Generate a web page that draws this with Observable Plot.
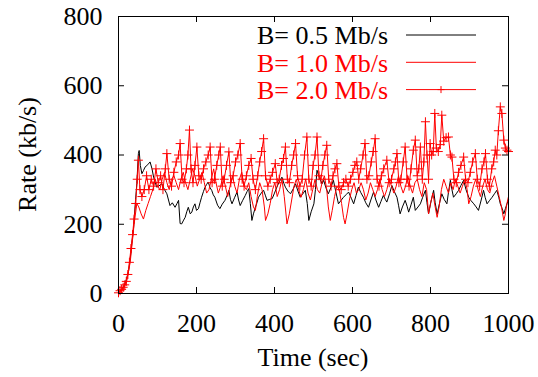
<!DOCTYPE html>
<html>
<head>
<meta charset="utf-8">
<script src="https://cdn.jsdelivr.net/npm/d3@7"></script>
<script src="https://cdn.jsdelivr.net/npm/@observablehq/plot@0.6"></script>
<style>
  html, body { margin: 0; padding: 0; background: white; }
  #chart svg text { font-family: "Liberation Serif", "Times New Roman", serif !important; }
</style>
</head>
<body>
<div id="chart"></div>
<script>
// Tick values
const xTicks = [0, 200, 400, 600, 800, 1000];
const yTicks = [0, 200, 400, 600, 800];
const xLabel = "Time (sec)";
const yLabel = "Rate (kb/s)";
const seriesLabels = ["B= 0.5 Mb/s", "B= 1.0 Mb/s", "B= 2.0 Mb/s"];
const seriesColors = ["black", "red", "red"];

// B = 0.5 Mb/s  [time (sec), rate (kb/s)]
const b05 = [[0,5],[5,8],[10,15],[15,25],[20,40],[26,66],[30,100],[34,143],[38,180],[43,259],[47,318],[51,404],[53,413],[56,370],[60,346],[64,355],[68,365],[75,372],[81,380],[86,360],[90,336],[98,307],[103,310],[111,317],[118,300],[124,288],[132,254],[138,262],[145,249],[150,260],[154,269],[158,202],[162,201],[167,212],[171,220],[175,236],[179,249],[184,230],[188,235],[192,250],[196,259],[200,240],[205,245],[209,262],[213,278],[218,295],[222,307],[226,315],[230,322],[235,305],[239,298],[243,285],[247,278],[254,255],[260,245],[266,258],[273,269],[278,282],[283,298],[287,272],[291,259],[298,278],[304,293],[308,270],[312,254],[318,268],[325,283],[330,295],[334,303],[338,260],[342,211],[346,230],[351,249],[355,262],[359,278],[366,290],[372,298],[377,282],[381,269],[388,272],[394,274],[400,290],[406,307],[412,322],[419,336],[424,318],[428,307],[434,296],[441,288],[448,302],[454,317],[460,296],[466,278],[472,287],[479,298],[484,260],[488,211],[494,236],[501,259],[505,300],[509,356],[515,335],[522,317],[526,327],[532,305],[538,288],[545,307],[551,327],[557,295],[564,259],[570,268],[577,278],[584,286],[590,293],[597,275],[603,259],[609,283],[615,307],[621,292],[628,278],[634,262],[641,249],[647,270],[654,293],[660,270],[667,249],[673,266],[679,283],[684,272],[688,264],[695,288],[701,312],[707,295],[714,278],[718,255],[722,230],[728,250],[735,269],[740,252],[744,235],[750,256],[756,278],[761,240],[768,250],[774,259],[780,278],[787,298],[791,262],[795,230],[801,264],[808,298],[812,262],[817,230],[823,260],[829,288],[835,272],[842,259],[846,292],[851,327],[855,300],[859,278],[866,288],[872,298],[878,312],[885,327],[891,300],[898,278],[904,268],[911,259],[917,250],[923,240],[930,270],[936,298],[940,278],[945,259],[951,268],[958,278],[964,288],[970,298],[975,278],[979,259],[984,245],[988,230],[992,245],[996,259],[1000,270]];

// B = 1.0 Mb/s
const b10 = [[0,0],[10,10],[20,30],[30,90],[40,200],[47,260],[52,250],[58,230],[64,215],[70,240],[76,260],[82,280],[88,300],[94,330],[100,310],[106,300],[112,330],[118,350],[124,320],[130,300],[136,330],[142,340],[148,320],[154,300],[160,330],[166,350],[172,320],[178,300],[184,330],[190,360],[196,340],[202,310],[208,330],[214,350],[220,320],[226,290],[232,300],[238,330],[244,360],[250,320],[256,290],[262,310],[268,340],[274,310],[280,280],[286,310],[292,340],[298,310],[304,290],[310,330],[316,350],[322,310],[328,300],[334,320],[340,280],[346,250],[351,240],[356,280],[362,320],[368,300],[374,250],[377,211],[383,230],[389,260],[395,300],[401,320],[407,280],[413,300],[419,330],[425,280],[432,201],[438,230],[444,270],[450,310],[456,330],[462,300],[468,278],[474,300],[480,330],[486,290],[492,270],[498,300],[504,330],[510,300],[516,290],[522,320],[528,340],[534,300],[538,250],[543,211],[548,240],[554,280],[560,310],[566,300],[572,260],[577,220],[581,201],[586,230],[592,270],[598,300],[604,320],[610,290],[616,300],[622,320],[628,300],[634,270],[640,290],[646,320],[652,300],[658,280],[664,300],[670,330],[676,300],[682,280],[688,300],[694,330],[700,310],[706,290],[712,310],[718,340],[724,310],[730,290],[736,310],[742,340],[748,310],[754,290],[760,320],[766,330],[772,300],[778,280],[784,320],[790,300],[795,230],[800,260],[806,290],[812,250],[817,220],[822,250],[828,300],[834,330],[840,310],[846,290],[852,320],[858,300],[864,330],[870,310],[876,290],[882,310],[888,330],[894,300],[898,259],[904,280],[910,310],[916,330],[922,300],[928,280],[934,310],[940,330],[946,300],[952,290],[958,320],[964,340],[970,310],[976,280],[982,250],[988,211],[992,230],[996,260],[1000,280]];

// B = 2.0 Mb/s
const b20 = [[0,2],[4,8],[8,12],[12,18],[16,25],[20,35],[24,55],[28,90],[32,130],[36,170],[40,215],[44,260],[48,330],[51,385],[55,300],[60,280],[66,300],[72,340],[78,300],[84,330],[90,310],[96,360],[102,320],[108,340],[114,300],[120,360],[124,404],[130,330],[136,310],[142,350],[148,380],[154,400],[158,433],[163,330],[168,320],[174,360],[178,400],[182,472],[186,360],[191,320],[196,370],[201,423],[206,340],[212,330],[218,360],[224,380],[230,400],[235,423],[240,320],[246,330],[252,370],[257,400],[261,423],[266,310],[271,330],[277,370],[283,409],[288,320],[294,340],[300,380],[306,400],[312,433],[317,330],[322,310],[328,340],[334,370],[340,390],[345,330],[351,300],[357,340],[362,380],[367,410],[372,447],[377,340],[383,310],[389,330],[395,350],[402,375],[407,320],[412,330],[418,370],[423,390],[428,423],[433,330],[438,320],[444,370],[449,400],[454,433],[459,340],[465,310],[471,330],[477,400],[483,452],[488,330],[494,310],[499,370],[504,400],[509,452],[514,340],[519,330],[524,370],[529,400],[534,428],[539,330],[545,310],[550,340],[555,360],[560,375],[565,310],[571,300],[577,320],[583,330],[589,310],[595,330],[601,350],[606,370],[611,380],[616,330],[621,360],[627,400],[632,433],[637,330],[642,340],[648,380],[653,410],[658,447],[663,330],[668,310],[674,340],[680,360],[688,385],[694,320],[700,330],[706,360],[710,380],[714,404],[719,320],[724,330],[730,380],[735,423],[740,330],[745,310],[750,360],[756,414],[761,443],[766,340],[770,360],[774,423],[779,330],[783,380],[787,496],[791,400],[795,330],[799,433],[803,400],[807,410],[811,520],[815,420],[820,410],[825,430],[829,515],[834,440],[840,450],[846,452],[851,400],[855,394],[860,330],[866,320],[872,350],[878,370],[885,394],[890,330],[896,320],[902,350],[908,380],[915,404],[920,330],[926,310],[932,360],[937,380],[941,404],[946,330],[951,310],[957,360],[962,380],[966,414],[970,400],[974,470],[979,539],[983,520],[988,443],[992,420],[996,414],[1000,410]];

const W = 538, H = 377;
const mL = 118, mR = 30, mT = 16, mB = 84;
const innerW = W - mL - mR, innerH = H - mT - mB;
const tickLen = 6;
const fontFam = "'Liberation Serif', 'Times New Roman', serif";

const chart = Plot.plot({
  width: W,
  height: H,
  marginLeft: mL,
  marginRight: mR,
  marginTop: mT,
  marginBottom: mB,
  style: {fontFamily: fontFam, fontSize: "26px", background: "white", color: "black", overflow: "visible"},
  x: {domain: [0, 1000], ticks: xTicks, tickSize: 0, tickPadding: 20, tickFormat: d => String(d), label: null},
  y: {domain: [0, 800], ticks: yTicks, tickSize: 0, tickPadding: 16, tickFormat: d => String(d), label: null},
  marks: [
    Plot.line(b05, {x: d => d[0], y: d => d[1], stroke: seriesColors[0], strokeWidth: 1}),
    Plot.line(b10, {x: d => d[0], y: d => d[1], stroke: seriesColors[1], strokeWidth: 1}),
    Plot.line(b20, {x: d => d[0], y: d => d[1], stroke: seriesColors[2], strokeWidth: 1}),
    Plot.dot(b20, {x: d => d[0], y: d => d[1], symbol: "plus", r: 3, stroke: seriesColors[2], strokeWidth: 1}),
    Plot.ruleX(xTicks, {insetTop: innerH - tickLen, stroke: "black"}),
    Plot.ruleX(xTicks, {insetBottom: innerH - tickLen, stroke: "black"}),
    Plot.ruleY(yTicks, {insetLeft: innerW - tickLen, stroke: "black"}),
    Plot.ruleY(yTicks, {insetRight: innerW - tickLen, stroke: "black"}),
    Plot.frame({stroke: "black", strokeWidth: 1})
  ]
});

document.getElementById("chart").appendChild(chart);

const svg = d3.select(chart);

// Axis titles
const at = svg.append("g").attr("font-family", fontFam).attr("font-size", 26).attr("fill", "black");
at.append("text").attr("x", mL + innerW / 2).attr("y", 366).attr("text-anchor", "middle").text(xLabel);
at.append("text").attr("transform", `translate(36,${mT + innerH / 2}) rotate(-90)`)
  .attr("text-anchor", "middle").text(yLabel);

// Legend (gnuplot style, inside top right)
const lg = svg.append("g").attr("font-family", fontFam).attr("font-size", 26);
seriesLabels.forEach((label, i) => {
  const yb = 44 + 27.5 * i;
  const yl = 35 + 27.3 * i;
  lg.append("text").attr("x", 388).attr("y", yb).attr("text-anchor", "end")
    .attr("fill", seriesColors[i]).text(label);
  lg.append("line").attr("x1", 406).attr("x2", 476).attr("y1", yl).attr("y2", yl)
    .attr("stroke", seriesColors[i]).attr("stroke-width", 1);
  if (i === 2) {
    lg.append("path").attr("d", `M${441 - 3.5},${yl}H${441 + 3.5}M441,${yl - 3.5}V${yl + 3.5}`)
      .attr("stroke", seriesColors[i]).attr("fill", "none");
  }
});
</script>
</body>
</html>
